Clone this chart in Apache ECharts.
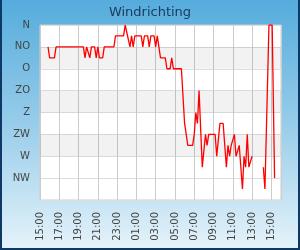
<!DOCTYPE html>
<html>
<head>
<meta charset="utf-8">
<script src="https://cdn.jsdelivr.net/npm/echarts@6/dist/echarts.min.js"></script>
<style>
html,body{margin:0;padding:0;}
#wrap{position:relative;width:300px;height:250px;}
#chart{position:absolute;left:0;top:0;width:300px;height:250px;}
#frame{position:absolute;left:0;top:0;width:300px;height:250px;box-sizing:border-box;border-left:2px solid #0e3866;border-right:2px solid #0e3866;border-bottom:2px solid #0e3866;pointer-events:none;}
</style>
</head>
<body>
<div id="wrap"><div id="chart"></div><div id="frame"></div></div>
<script>
// minutes since 15:00 on the first day
const times = [50,60,90,100,270,280,290,300,310,320,340,350,360,370,390,400,460,470,520,530,540,560,570,580,590,630,640,650,670,680,690,710,720,730,740,750,780,790,810,820,830,880,900,910,920,950,960,970,980,990,1010,1030,1040,1050,1090,1100,1120,1140,1160,1170,1180,1190,1210,1220,1230,1240,1260,1270,1280,1290,1300,1310,1320,1330,1390,1400,1410,1425,1445,1460];
// wind direction in degrees (0 = N)
const directions = [45,67.5,67.5,45,45,67.5,45,45,67.5,45,45,67.5,45,67.5,67.5,45,45,22.5,22.5,0,0,45,22.5,45,22.5,22.5,45,22.5,22.5,45,22.5,22.5,45,22.5,45,67.5,67.5,90,90,67.5,90,90,202.5,202.5,247.5,247.5,225,180,202.5,135,292.5,225,247.5,225,225,270,202.5,202.5,292.5,247.5,270,247.5,225,270,270,247.5,337.5,270,292.5,225,292.5,292.5,270,null,292.5,337.5,337.5,0,0,315];
const dirLabels = {0:'N',45:'NO',90:'O',135:'ZO',180:'Z',225:'ZW',270:'W',315:'NW'};
const hourLabels = ['15:00','17:00','19:00','21:00','23:00','01:00','03:00','05:00','07:00','09:00','11:00','13:00','15:00'];
const bands = [[45,90],[135,180],[225,270]];

const chart = echarts.init(document.getElementById('chart'));
const font = 'DejaVu Sans';
chart.setOption({
  animation: false,
  backgroundColor: new echarts.graphic.LinearGradient(0,0,0,1,[
    {offset:0,color:'#55acdc'},{offset:0.5,color:'#98cdea'},{offset:1,color:'#e6f3fa'}]),
  title: {text:'Windrichting', left:'center', top:1,
    textStyle:{fontFamily:font, fontSize:13, fontWeight:'normal', color:'#1b3c60'}},
  grid: {left:40, right:19, top:25, bottom:50, show:true, backgroundColor:'#ffffff', borderColor:'#cccccc', borderWidth:1},
  xAxis: {type:'value', min:0, max:1500, interval:120,
    axisLine:{show:false}, axisTick:{show:false},
    splitLine:{show:true, lineStyle:{color:'#cccccc', width:1}},
    axisLabel:{rotate:90, margin:12, fontFamily:font, fontSize:10, color:'#444',
      formatter:function(v){ if (v % 120 !== 0 || v > 1440) return ''; return hourLabels[v/120]; }}},
  yAxis: {type:'value', inverse:true, min:0, max:360, interval:45,
    axisLine:{show:false}, axisTick:{show:false},
    splitLine:{show:true, lineStyle:{color:'#dddddd', width:1}},
    axisLabel:{margin:10, fontFamily:font, fontSize:10, color:'#444',
      formatter:function(v){ return dirLabels[v] !== undefined ? dirLabels[v] : ''; }}},
  series: [{
    type:'line',
    data: times.map((t,i)=>[t, directions[i]]),
    showSymbol:false, connectNulls:false,
    lineStyle:{color:'#ff0000', width:1.3},
    markArea:{silent:true, itemStyle:{color:'rgba(0,0,0,0.05)'},
      data: bands.map(b=>[{yAxis:b[0]},{yAxis:b[1]}])}
  }]
});
</script>
</body>
</html>
